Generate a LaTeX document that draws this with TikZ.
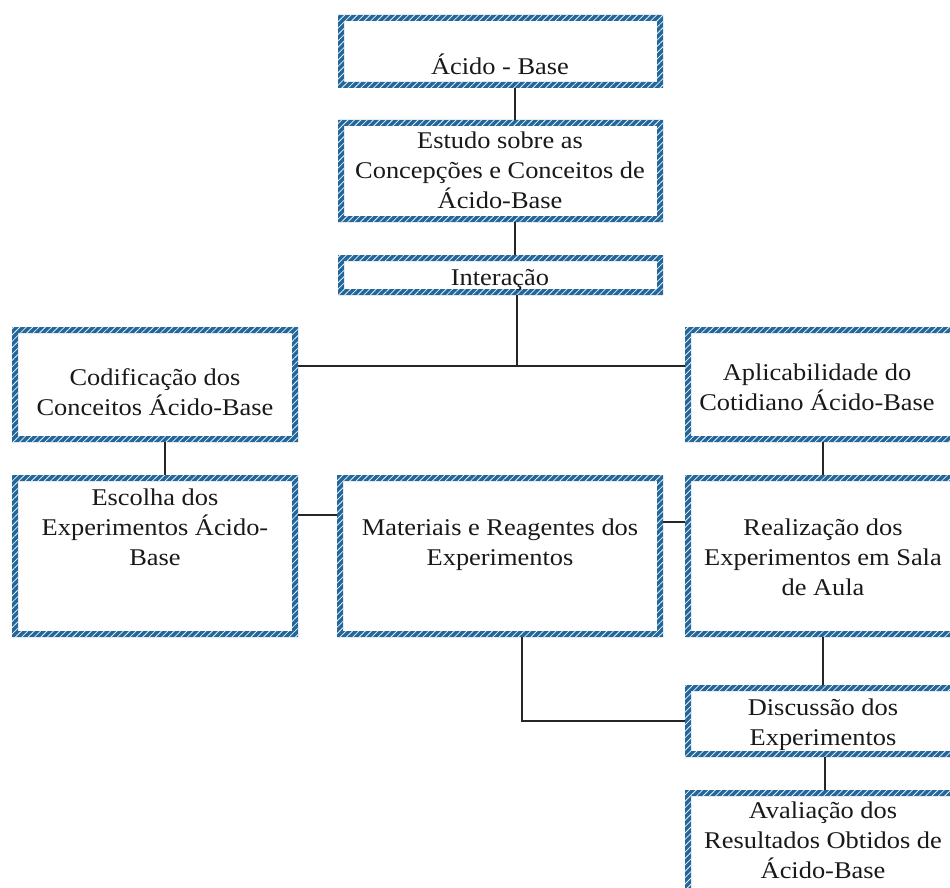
\documentclass[tikz,border=0pt]{standalone}
\usepackage{fontspec}
\setmainfont{Liberation Serif}[FakeStretch=1.1]
\usetikzlibrary{patterns.meta,calc}
\definecolor{bandblue}{HTML}{23679A}
\tikzset{
  box/.style={inner sep=0pt, outer sep=0pt},
  txt/.style={font=\fontsize{24}{30}\selectfont, align=center, anchor=base, inner sep=0pt, text=black!90},
  conn/.style={line width=1.2pt, black!85}
}
\newcommand{\bandbox}[1]{%
  \fill[bandblue, even odd rule] (#1.south west) rectangle (#1.north east)
     ([shift={(6pt,6pt)}]#1.south west) rectangle ([shift={(-6pt,-6pt)}]#1.north east);
  \fill[pattern={Lines[angle=45,distance=4.5pt,line width=0.8pt]}, pattern color=white!90!bandblue, even odd rule] (#1.south west) rectangle (#1.north east)
     ([shift={(6pt,6pt)}]#1.south west) rectangle ([shift={(-6pt,-6pt)}]#1.north east);
}
\begin{document}
\begin{tikzpicture}[x=1pt,y=-1pt]
\clip (0,0) rectangle (950,888);
\fill[white] (0,0) rectangle (950,888);
% boxes
\node[box, minimum width=325pt, minimum height=73pt] (b1) at (500.5,51.5) {};
\node[box, minimum width=325pt, minimum height=102pt] (b2) at (500.5,171) {};
\node[box, minimum width=325pt, minimum height=40pt] (b3) at (500.5,275) {};
\node[box, minimum width=286pt, minimum height=115pt] (b4) at (155,384.5) {};
\node[box, minimum width=275pt, minimum height=115pt] (b5) at (822.5,384.5) {};
\node[box, minimum width=286pt, minimum height=162pt] (b6) at (155,556) {};
\node[box, minimum width=326pt, minimum height=162pt] (b7) at (500,556) {};
\node[box, minimum width=275pt, minimum height=162pt] (b8) at (822.5,556) {};
\node[box, minimum width=275pt, minimum height=72pt] (b9) at (822.5,721) {};
\node[box, minimum width=275pt, minimum height=115pt] (b10) at (822.5,847.5) {};
\foreach \n in {b1,b2,b3,b4,b5,b6,b7,b8,b9,b10} {\bandbox{\n}}
% texts (base = baseline of last line)
\node[txt] (t1) at (500,75) {Ácido - Base};
\node[txt] (t2) at (500,208) {Estudo sobre as\\Concepções e Conceitos de\\Ácido-Base};
\node[txt] (t3) at (500,285) {Interação};
\node[txt] (t4) at (155,415) {Codificação dos\\Conceitos Ácido-Base};
\node[txt] (t5) at (817,410) {Aplicabilidade do\\Cotidiano Ácido-Base};
\node[txt] (t6) at (155,565) {Escolha dos\\Experimentos Ácido-\\Base};
\node[txt] (t7) at (500,565) {Materiais e Reagentes dos\\Experimentos};
\node[txt] (t8) at (823,595) {Realização dos\\Experimentos em Sala\\de Aula};
\node[txt] (t9) at (823,745) {Discussão dos\\Experimentos};
\node[txt] (t10) at (823,878) {Avaliação dos\\Resultados Obtidos de\\Ácido-Base};
% connectors
\coordinate (j) at (517,366);
\draw[conn] ([xshift=14.5pt]b1.south) -- ([xshift=14.5pt]b2.north);
\draw[conn] ([xshift=14.5pt]b2.south) -- ([xshift=14.5pt]b3.north);
\draw[conn] ([xshift=16.5pt]b3.south) -- (j);
\draw[conn] (b4.east |- j) -- (b5.west |- j);
\draw[conn] ([xshift=10pt]b4.south) -- ([xshift=10pt]b6.north);
\draw[conn] ([yshift=41pt]b6.east) -- ([yshift=41pt]b7.west);
\draw[conn] ([yshift=34pt]b7.east) -- ([yshift=34pt]b8.west);
\draw[conn] ([xshift=0.5pt]b5.south) -- ([xshift=0.5pt]b8.north);
\draw[conn] ([xshift=0.5pt]b8.south) -- ([xshift=0.5pt]b9.north);
\draw[conn] ([xshift=2.5pt]b9.south) -- ([xshift=2.5pt]b10.north);
\draw[conn] ([xshift=22pt]b7.south) |- (b9.west);
\end{tikzpicture}
\end{document}
